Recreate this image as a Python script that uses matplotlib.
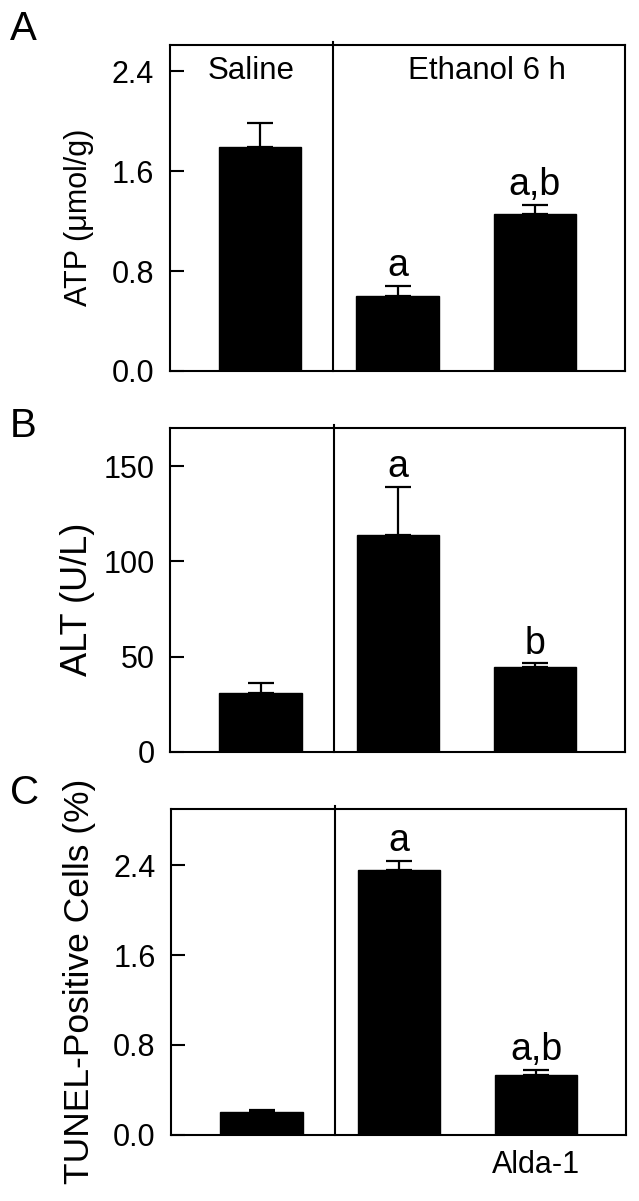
import matplotlib
matplotlib.use("Agg")
import matplotlib.pyplot as plt
import numpy as np

plt.rcParams['font.family'] = ['Liberation Sans', 'DejaVu Sans']

# ---- data ----
groups = ["Saline", "Ethanol", "Ethanol + Alda-1"]
x_label_last = "Alda-1"

atp_mean = [1.794, 0.598, 1.254]
atp_err = [0.192, 0.085, 0.074]
atp_sig = ["", "a", "a,b"]

alt_mean = [30.6, 114.0, 44.3]
alt_err = [5.4, 25.4, 2.2]
alt_sig = ["", "a", "b"]

tunel_mean = [0.197, 2.36, 0.527]
tunel_err = [0.024, 0.082, 0.051]
tunel_sig = ["", "a", "a,b"]

atp_ticks = [0.0, 0.8, 1.6, 2.4]
alt_ticks = [0, 50, 100, 150]
tunel_ticks = [0.0, 0.8, 1.6, 2.4]

W, H = 639, 1201
fig = plt.figure(figsize=(W / 100, H / 100), dpi=100)

def px_axes(left, right, top, bottom):
    return fig.add_axes([left / W, 1 - bottom / H, (right - left) / W, (bottom - top) / H])

axA = px_axes(169.5, 625, 45, 371)
axB = px_axes(170, 625, 428.3, 751.7)
axC = px_axes(171, 626, 809.3, 1134.5)

panels = [
    (axA, atp_mean, atp_err, atp_sig, atp_ticks, 2.61, "%.1f", "ATP (\u03bcmol/g)", 22, "A", 10),
    (axB, alt_mean, alt_err, alt_sig, alt_ticks, 170, "%d", "ALT (U/L)", 26, "B", 407),
    (axC, tunel_mean, tunel_err, tunel_sig, tunel_ticks, 2.9, "%.1f", "TUNEL-Positive Cells (%)", 25.5, "C", 774),
]

xpos = np.arange(len(groups))
for ax, mean, err, sig, ticks, ytop, fmt, ylab, ylfs, letter, ltop in panels:
    ax.bar(xpos, mean, width=0.6, color="black", edgecolor="black", zorder=2)
    ax.errorbar(xpos, mean, yerr=[np.zeros(len(mean)), err], fmt="none",
                ecolor="black", elinewidth=1.6, capsize=9.5, capthick=1.6, zorder=3)
    for xi, m, e, s in zip(xpos, mean, err, sig):
        if s:
            ax.annotate(s, (xi, m + e), xytext=(0, 7), textcoords="offset points",
                        ha="center", va="baseline", fontsize=27)
    ax.set_xlim(-0.66, 2.655)
    ax.set_ylim(0, ytop)
    ax.set_yticks(ticks)
    ax.set_yticklabels([fmt % t for t in ticks])
    ax.tick_params(axis="y", direction="in", length=10, width=1.5, labelsize=22, pad=11)
    ax.axvline(0.533, ymin=0, ymax=1.01, color="black", lw=1.5, clip_on=False)
    for sp in ax.spines.values():
        sp.set_linewidth(1.5)
    ax.set_ylabel(ylab, fontsize=ylfs)
    ax.yaxis.set_label_coords(-0.165, 0.47)
    fig.text(10 / W, 1 - ltop / H, letter, fontsize=29, ha="left", va="top")

for ax in (axA, axB):
    ax.set_xticks([])
axC.set_xticks([2])
axC.set_xticklabels([x_label_last])
axC.tick_params(axis="x", length=0, labelsize=22, pad=11)

axA.text(-0.063, 2.4, "Saline", ha="center", va="center", fontsize=22.5)
axA.text(1.65, 2.4, "Ethanol 6 h", ha="center", va="center", fontsize=22.5)

fig.savefig("out.png", dpi=100)
